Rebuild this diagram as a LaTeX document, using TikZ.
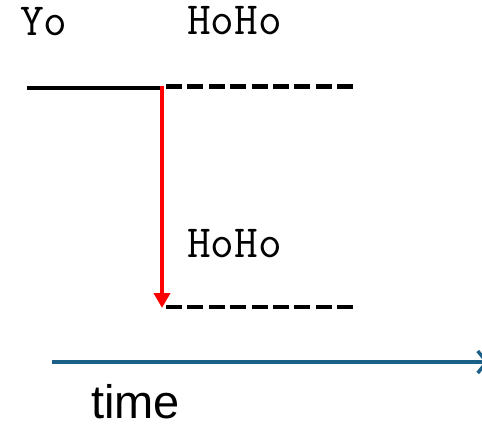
\documentclass[tikz,border=0pt]{standalone}
\usepackage{fontspec}
\setmainfont{Liberation Sans}
\usetikzlibrary{arrows.meta}
\definecolor{timeblue}{RGB}{28,96,136}

\begin{document}
\begin{tikzpicture}[
  x = 1pt, y = -1pt,
  > = Stealth,
  line cap = butt
  ]

  \tikzstyle{level}=[
  draw = black,
  line width = 4.5pt
  ]
  \tikzstyle{virtual}=[
  level,
  dash pattern = on 16pt off 5.4pt
  ]
  \tikzstyle{lbl}=[
  font = \ttfamily\fontsize{46}{46}\selectfont,
  anchor = base west,
  inner sep = 0pt
  ]

  \useasboundingbox (0,0) rectangle (482,428);

  \node[lbl] (yo) at (20,36) {Yo};
  \node[lbl] (hohotop) at (187,35) {HoHo};
  \node[lbl] (hohobot) at (187,257) {HoHo};

  \coordinate (g0) at (27,88);
  \coordinate (g1) at (164,88);
  \coordinate (v0) at (166,86.5);
  \coordinate (v1) at (355,86.5);
  \coordinate (w0) at (166,307);
  \coordinate (w1) at (355,307);
  \coordinate (top) at (162,86);
  \coordinate (bot) at (162,308);
  \coordinate (t0) at (52,362);
  \coordinate (t1) at (489,362);

  \draw[level] (g0) -- (g1);
  \draw[virtual] (v0) -- (v1);
  \draw[virtual] (w0) -- (w1);
  \draw[red, line width = 4.5pt, -{Triangle[length=15pt, width=16pt]}] (top) -- (bot);
  \draw[timeblue, line width = 3.5pt, -{Straight Barb[length=9pt, width=22pt]}] (t0) -- (t1);

  \node[font = \fontsize{47}{47}\selectfont, anchor = base west, inner sep = 0pt] (time) at (91,418) {time};

\end{tikzpicture}
\end{document}
